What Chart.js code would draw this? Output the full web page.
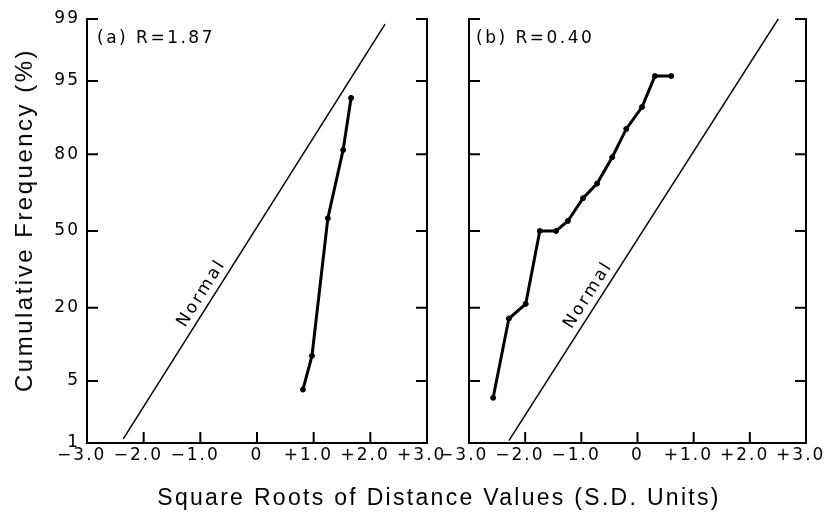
<!DOCTYPE html>
<html>
<head>
<meta charset="utf-8">
<script src="https://cdn.jsdelivr.net/npm/chart.js@4.4.1/dist/chart.umd.min.js"></script>
<style>
  body { margin: 0; background: #fff; }
  #wrap { position: relative; width: 833px; height: 517px; overflow: hidden; font-family: "Liberation Sans", Arial, sans-serif; color: #000; }
  canvas { position: absolute; top: 0; }
  #chartA { left: 0; }
  #chartB { left: 420px; }
  .ytitle { position: absolute; left: 24px; top: 220px; transform: translate(-50%, -50%) rotate(-90deg); white-space: nowrap; font-size: 24px; letter-spacing: 2.5px; }
  .xtitle { position: absolute; left: 439px; top: 497px; transform: translate(-50%, -50%); white-space: nowrap; font-size: 23px; letter-spacing: 2.3px; }
</style>
</head>
<body>
<div id="wrap">
  <canvas id="chartA" width="460" height="517"></canvas>
  <canvas id="chartB" width="413" height="517"></canvas>
  <div class="ytitle">Cumulative Frequency (%)</div>
  <div class="xtitle">Square Roots of Distance Values (S.D. Units)</div>
</div>
<script>
// probability axis: cumulative % labels and their normal scores (S.D. units)
const pctLabels = ['1', '5', '20', '50', '80', '95', '99'];
const pctScores = [-2.326, -1.645, -0.842, 0, 0.842, 1.645, 2.326];

const xTicks = [-3, -2, -1, 0, 1, 2, 3];
// trailing en space keeps the digits centred on the tick, sign hangs left
const xTickLabels = ['\u22123.0\u2002', '\u22122.0\u2002', '\u22121.0\u2002', '0', '+1.0\u2002', '+2.0\u2002', '+3.0\u2002'];

// (a) R=1.87  -- y in normal scores
const aX = [0.81, 0.97, 1.25, 1.52, 1.66];
const aY = [-1.74, -1.37, 0.14, 0.89, 1.46];
const aNormalX = [-2.36, 2.26];
const aNormalY = [-2.28, 2.27];

// (b) R=0.40
const bX = [-2.57, -2.29, -1.99, -1.74, -1.45, -1.24, -0.97, -0.72, -0.45, -0.20, 0.08, 0.31, 0.60];
const bY = [-1.83, -0.96, -0.80, 0.0, 0.0, 0.11, 0.36, 0.52, 0.81, 1.12, 1.36, 1.70, 1.70];
const bNormalX = [-2.29, 2.52];
const bNormalY = [-2.30, 2.34];

const FONT = '"DejaVu Sans", "Liberation Sans", Arial, sans-serif';

const paperPlot = {
  id: 'paperPlot',
  beforeDraw(chart) {
    chart.ctx.letterSpacing = '2px';
  },
  afterDraw(chart, args, opts) {
    const ctx = chart.ctx;
    const x = chart.scales.x, y = chart.scales.y;
    const area = chart.chartArea;
    ctx.save();
    ctx.strokeStyle = '#000';
    ctx.lineWidth = 2;
    ctx.beginPath();
    xTicks.slice(1, -1).forEach((v) => {
      const px = x.getPixelForValue(v);
      ctx.moveTo(px, area.bottom);
      ctx.lineTo(px, area.bottom - 11);
    });
    pctScores.slice(1).forEach((v) => {
      const py = y.getPixelForValue(v);
      ctx.moveTo(area.left, py);
      ctx.lineTo(area.left + 11, py);
      ctx.moveTo(area.right, py);
      ctx.lineTo(area.right - 11, py);
    });
    ctx.stroke();

    ctx.fillStyle = '#000';
    ctx.font = '17px ' + FONT;
    ctx.letterSpacing = '2.5px';
    ctx.textAlign = 'left';
    ctx.textBaseline = 'middle';
    ctx.fillText(opts.caption, area.left + opts.captionDx, area.top + 20);

    // "Normal" written along the reference line
    const nx = opts.normalX, ny = opts.normalY;
    const x0 = x.getPixelForValue(nx[0]), y0 = y.getPixelForValue(ny[0]);
    const x1 = x.getPixelForValue(nx[1]), y1 = y.getPixelForValue(ny[1]);
    const t = (opts.labelZ - ny[0]) / (ny[1] - ny[0]);
    const lx = x0 + (x1 - x0) * t, ly = y0 + (y1 - y0) * t;
    ctx.translate(lx, ly);
    ctx.rotate(Math.atan2(y1 - y0, x1 - x0));
    ctx.textAlign = 'center';
    ctx.textBaseline = 'bottom';
    ctx.fillText('Normal', 0, -3);
    ctx.restore();
  }
};

function makePanel(id, xs, ys, normalX, normalY, caption, captionDx, labelZ, showYLabels, leftW, rightPad) {
  const pts = xs.map((v, i) => ({ x: v, y: ys[i] }));
  const normal = normalX.map((v, i) => ({ x: v, y: normalY[i] }));
  return new Chart(document.getElementById(id), {
    type: 'scatter',
    data: {
      datasets: [
        { data: pts, showLine: true, borderColor: '#000', backgroundColor: '#000', borderWidth: 3, pointRadius: 2.5, pointBorderWidth: 1 },
        { data: normal, showLine: true, borderColor: '#000', borderWidth: 1.5, pointRadius: 0 }
      ]
    },
    options: {
      responsive: false,
      animation: false,
      layout: { padding: { left: 0, top: 19, right: rightPad, bottom: 44 } },
      plugins: {
        legend: { display: false },
        tooltip: { enabled: false },
        paperPlot: { caption, captionDx, normalX, normalY, labelZ }
      },
      scales: {
        x: {
          type: 'linear', min: -3, max: 3,
          afterBuildTicks: (s) => { s.ticks = xTicks.map((v) => ({ value: v })); },
          afterFit: (s) => { s.height = 30; },
          ticks: { color: '#000', font: { size: 17, family: FONT }, padding: 2, maxRotation: 0, autoSkip: false,
            callback: (v, i) => xTickLabels[i] },
          grid: { display: false, drawTicks: false },
          border: { display: true, width: 2, color: '#000' }
        },
        y: {
          type: 'linear', min: pctScores[0], max: pctScores[pctScores.length - 1],
          afterBuildTicks: (s) => { s.ticks = pctScores.map((v) => ({ value: v })); },
          afterFit: (s) => { s.width = leftW; },
          ticks: { display: showYLabels, color: '#000', font: { size: 17, family: FONT }, padding: 7, autoSkip: false,
            callback: (v, i) => pctLabels[i] },
          grid: { display: false, drawTicks: false },
          border: { display: true, width: 2, color: '#000' }
        },
        y2: {
          type: 'linear', position: 'right', min: pctScores[0], max: pctScores[pctScores.length - 1],
          afterFit: (s) => { s.width = 0; },
          ticks: { display: false },
          grid: { display: false, drawTicks: false },
          border: { display: true, width: 2, color: '#000' }
        }
      }
    },
    plugins: [paperPlot]
  });
}

makePanel('chartA', aX, aY, aNormalX, aNormalY, '(a) R=1.87', 10, -0.75, true, 87, 33);
makePanel('chartB', bX, bY, bNormalX, bNormalY, '(b) R=0.40', 7, -0.77, false, 49, 27);
</script>
</body>
</html>
